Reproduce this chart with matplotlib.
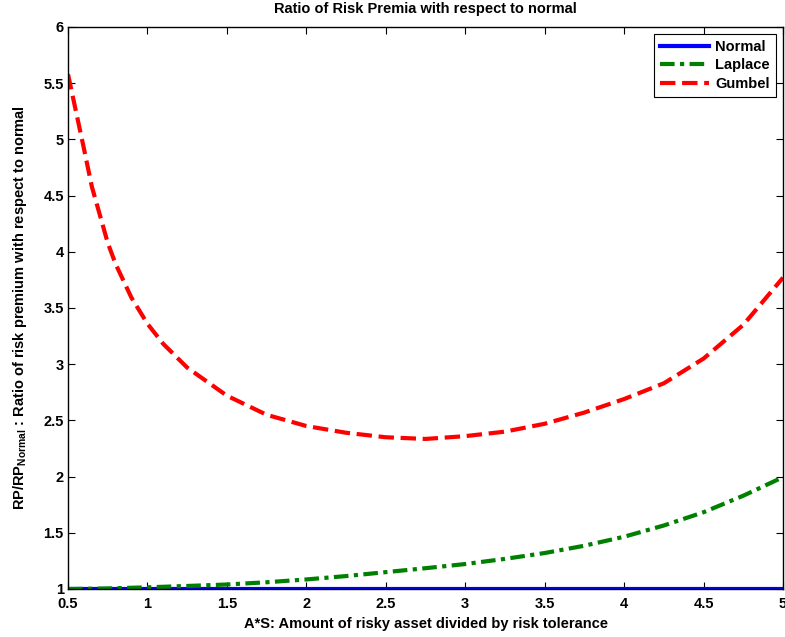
"""
Ratio of risk premia (Laplace, Gumbel) relative to the normal case.
"""

import matplotlib
matplotlib.use("Agg")
import matplotlib.pyplot as plt
from matplotlib.ticker import FormatStrFormatter, MultipleLocator

plt.rcParams["font.family"] = ["Liberation Sans", "DejaVu Sans"]
plt.rcParams["font.weight"] = "bold"
plt.rcParams["mathtext.fontset"] = "custom"
plt.rcParams["mathtext.rm"] = "Liberation Sans:bold"

# values
gumbel_x = [0.5, 0.55, 0.6, 0.65, 0.7, 0.75, 0.8, 0.9, 1.0, 1.1, 1.25, 1.5, 1.75,
            2.0, 2.25, 2.5, 2.75, 3.0, 3.25, 3.5, 3.75, 4.0, 4.25, 4.5, 4.75, 5.0]
gumbel_ratio = [5.58, 5.25, 4.92, 4.58, 4.33, 4.08, 3.89, 3.59, 3.36, 3.18, 2.97, 2.72, 2.55,
                2.45, 2.39, 2.35, 2.335, 2.36, 2.40, 2.47, 2.57, 2.69, 2.83, 3.05, 3.35, 3.77]

laplace_x = [0.5, 0.75, 1.0, 1.25, 1.5, 1.75, 2.0, 2.25, 2.5, 2.75,
             3.0, 3.25, 3.5, 3.75, 4.0, 4.25, 4.5, 4.75, 5.0]
laplace_ratio = [1.0, 1.005, 1.015, 1.027, 1.04, 1.06, 1.085, 1.115, 1.15, 1.185,
                 1.222, 1.268, 1.32, 1.385, 1.465, 1.565, 1.683, 1.83, 1.995]

normal_x = [0.5, 5.0]
normal_ratio = [1.0, 1.0]

fig = plt.figure(figsize=(7.85, 6.37), dpi=100)
ax = fig.add_axes([68 / 785, 1 - 589 / 637, 715 / 785, 562 / 637])

ax.plot(normal_x, normal_ratio, color="#0000ff", linewidth=3, label="Normal")
ax.plot(laplace_x, laplace_ratio, color="#008000", linewidth=3,
        dashes=(3.5, 1.3, 1.0, 1.3), label="Laplace")
ax.plot(gumbel_x, gumbel_ratio, color="#ff0000", linewidth=3,
        dashes=(3.7, 1.6), label="Gumbel")

ax.set_xlim(0.5, 5)
ax.set_ylim(1, 6)
ax.xaxis.set_major_locator(MultipleLocator(0.5))
ax.yaxis.set_major_locator(MultipleLocator(0.5))
ax.xaxis.set_major_formatter(FormatStrFormatter("%g"))
ax.yaxis.set_major_formatter(FormatStrFormatter("%g"))
ax.tick_params(direction="in", length=5, top=True, right=True, labelsize=10.5, pad=3)
ax.tick_params(axis="x", pad=6)
for spine in ax.spines.values():
    spine.set_linewidth(1)

ax.set_title("Ratio of Risk Premia with respect to normal", fontsize=10.5,
             fontweight="bold", pad=10)
ax.set_xlabel("A*S: Amount of risky asset divided by risk tolerance", fontsize=10.5,
              fontweight="bold", labelpad=4)
ax.set_ylabel(r"RP/RP$_{\rm Normal}$ : Ratio of risk premium with respect to normal",
              fontsize=10.5, fontweight="bold", labelpad=10)

leg = ax.legend(loc="upper right", fontsize=10.5, handlelength=3.4, fancybox=False,
                framealpha=1, edgecolor="black", borderaxespad=0.5,
                labelspacing=0.3, handletextpad=0.4)
leg.get_frame().set_linewidth(0.8)

fig.savefig("out.png", dpi=100)
